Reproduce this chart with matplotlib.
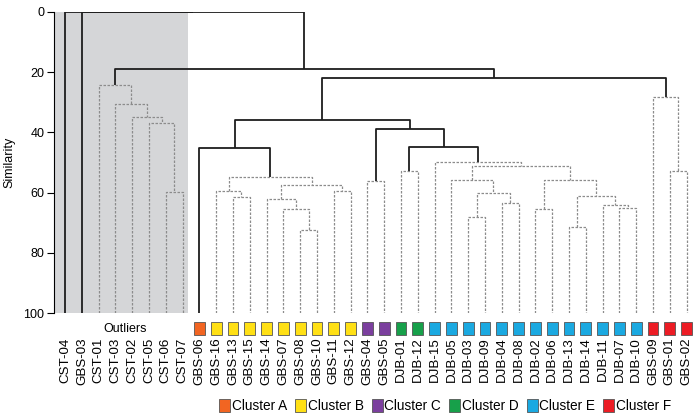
import matplotlib
matplotlib.use("Agg")
import matplotlib.pyplot as plt
from matplotlib.patches import Rectangle, Patch
from matplotlib.transforms import blended_transform_factory

leaves = ["CST-04", "GBS-03", "CST-01", "CST-03", "CST-02", "CST-05", "CST-06", "CST-07",
          "GBS-06", "GBS-16", "GBS-13", "GBS-15", "GBS-14", "GBS-07", "GBS-08", "GBS-10",
          "GBS-11", "GBS-12", "GBS-04", "GBS-05", "DJB-01", "DJB-12", "DJB-15", "DJB-05",
          "DJB-03", "DJB-09", "DJB-04", "DJB-08", "DJB-02", "DJB-06", "DJB-13", "DJB-14",
          "DJB-11", "DJB-07", "DJB-10", "GBS-09", "GBS-01", "GBS-02"]

leaf_cluster = [""] * 8 + ["A"] + ["B"] * 9 + ["C"] * 2 + ["D"] * 2 + ["E"] * 13 + ["F"] * 3

cluster_names = ["A", "B", "C", "D", "E", "F"]
cluster_colors = ["#f26522", "#ffe014", "#7b3f9e", "#17a04a", "#1aa9e1", "#ec1c24"]

# merges: (child, child, similarity); ints point to earlier merges, strings are leaves
merges = [
    ("CST-06", "CST-07", 59.7),   # 0
    ("CST-05", 0, 36.9),          # 1
    ("CST-02", 1, 35.0),          # 2
    ("CST-03", 2, 30.6),          # 3
    ("CST-01", 3, 24.3),          # 4
    ("GBS-13", "GBS-15", 61.5),   # 5
    ("GBS-16", 5, 59.4),          # 6
    ("GBS-08", "GBS-10", 72.4),   # 7
    ("GBS-07", 7, 65.5),          # 8
    ("GBS-14", 8, 62.1),          # 9
    ("GBS-11", "GBS-12", 59.5),   # 10
    (9, 10, 57.5),                # 11
    (6, 11, 54.8),                # 12
    ("GBS-06", 12, 45.2),         # 13
    ("GBS-04", "GBS-05", 56.1),   # 14
    ("DJB-01", "DJB-12", 52.8),   # 15
    ("DJB-03", "DJB-09", 68.1),   # 16
    ("DJB-04", "DJB-08", 63.5),   # 17
    (16, 17, 60.1),               # 18
    ("DJB-05", 18, 55.8),         # 19
    ("DJB-02", "DJB-06", 65.4),   # 20
    ("DJB-13", "DJB-14", 71.4),   # 21
    ("DJB-07", "DJB-10", 65.1),   # 22
    ("DJB-11", 22, 64.2),         # 23
    (21, 23, 61.1),               # 24
    (20, 24, 55.8),               # 25
    (19, 25, 51.1),               # 26
    ("DJB-15", 26, 49.8),         # 27
    (15, 27, 44.9),               # 28
    (14, 28, 39.0),               # 29
    (13, 29, 35.9),               # 30
    ("GBS-01", "GBS-02", 52.8),   # 31
    ("GBS-09", 31, 28.2),         # 32
    (30, 32, 21.9),               # 33
    (4, 33, 18.9),                # 34
    ("GBS-03", 34, 0.0),          # 35
    ("CST-04", 35, 0.0),          # 36
]
solid_links = [13, 28, 29, 30, 33, 34, 35, 36]

plt.rcParams["font.family"] = ["Liberation Sans", "DejaVu Sans"]

fig = plt.figure(figsize=(7.0, 4.17), dpi=100)
ax = fig.add_axes([54 / 700, 1 - 313 / 417, 646 / 700, 301 / 417])

# positions of every node
pos = {}
for i, name in enumerate(leaves):
    pos[name] = (i, 100.0)
for k, (a, b, h) in enumerate(merges):
    xa, ha = pos[a]
    xb, hb = pos[b]
    if k in solid_links:
        style = dict(color="#1e1e1e", lw=1.3, ls="-")
    else:
        style = dict(color="#8c8c8c", lw=0.9, ls=(0, (2, 1.2)))
    ax.plot([xa, xa, xb, xb], [ha, h, h, hb], solid_capstyle="butt", zorder=3, **style)
    pos[k] = ((xa + xb) / 2, h)

x_left = -0.66
x_right = 37.8
ax.set_xlim(x_left, x_right)
ax.set_ylim(100, 0)
ax.axvspan(x_left, 7.3, color="#d5d6d8", zorder=0, lw=0)

for s in ["top", "right", "bottom"]:
    ax.spines[s].set_visible(False)
ax.spines["left"].set_linewidth(0.8)
ax.set_yticks([0, 20, 40, 60, 80, 100])
ax.tick_params(axis="y", direction="out", length=5, width=0.8, labelsize=9, pad=2)
ax.set_ylabel("Similarity", fontsize=9, labelpad=6)

ax.set_xticks(range(len(leaves)))
ax.set_xticklabels(leaves, rotation=90, fontsize=9.6)
ax.tick_params(axis="x", length=0, pad=17.5)

trans = blended_transform_factory(ax.transData, ax.transAxes)
for i, c in enumerate(leaf_cluster):
    if not c:
        continue
    col = cluster_colors[cluster_names.index(c)]
    ax.add_patch(Rectangle((i - 0.32, -0.073), 0.64, 0.043, transform=trans,
                           facecolor=col, edgecolor="#555555", lw=0.6, clip_on=False))
ax.text(3.55, -0.052, "Outliers", transform=trans, ha="center", va="center", fontsize=9)

handles = [Patch(facecolor=c, edgecolor="#555555", lw=0.6) for c in cluster_colors]
labels = ["Cluster " + n for n in cluster_names]
fig.legend(handles, labels, loc="center", bbox_to_anchor=(0.636, 0.026), ncol=6,
           frameon=False, fontsize=9.8, handlelength=0.8, handleheight=1.0,
           handletextpad=0.12, columnspacing=0.6, borderaxespad=0, borderpad=0)

fig.savefig("out.png", dpi=100)
